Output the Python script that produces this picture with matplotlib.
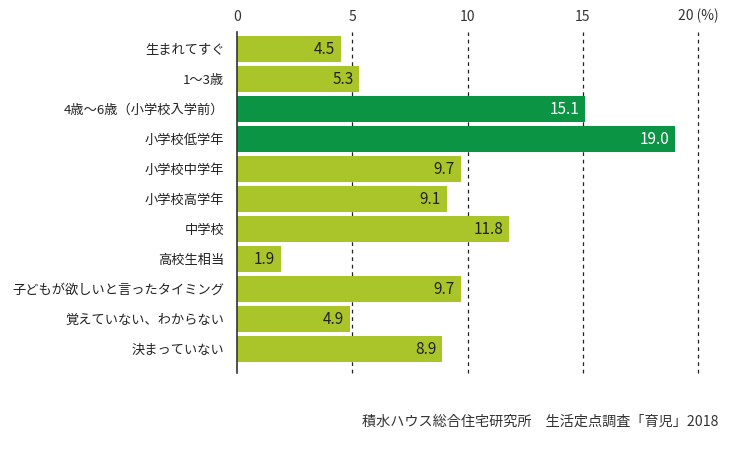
import matplotlib
matplotlib.use("Agg")
import matplotlib.pyplot as plt

plt.rcParams['font.family'] = ['Noto Sans CJK JP', 'DejaVu Sans']

categories = ["生まれてすぐ", "1〜3歳", "4歳〜6歳（小学校入学前）", "小学校低学年",
              "小学校中学年", "小学校高学年", "中学校", "高校生相当",
              "子どもが欲しいと言ったタイミング", "覚えていない、わからない", "決まっていない"]
values = [4.5, 5.3, 15.1, 19.0, 9.7, 9.1, 11.8, 1.9, 9.7, 4.9, 8.9]
highlight = [False, False, True, True, False, False, False, False, False, False, False]
ticks = [0, 5, 10, 15, 20]
tick_labels = ["0", "5", "10", "15", "20 (%)"]
source = "積水ハウス総合住宅研究所　生活定点調査「育児」2018"

light = "#a9c52a"
dark = "#0a9444"

fig = plt.figure(figsize=(7.4, 4.5), dpi=100)
W, H = 740, 450
ax = fig.add_axes([237 / W, 1 - 373 / H, (698 - 237) / W, (373 - 32) / H])

ypos = list(range(len(categories)))
colors = [dark if h else light for h in highlight]
ax.barh(ypos, values, height=0.88, color=colors, zorder=2)

for y, v, h in zip(ypos, values, highlight):
    ax.text(v - 0.25, y + 0.03, f"{v:.1f}", ha="right", va="center",
            fontsize=11, color="white" if h else "#222222", zorder=3)

ax.set_xlim(0, 20)
ax.set_ylim(10.8, -0.57)
ax.set_yticks(ypos)
ax.set_yticklabels(categories, fontsize=9.5, color="#222222")
ax.set_xticks(ticks)
ax.set_xticklabels(tick_labels, fontsize=10, color="#333333")
ax.xaxis.tick_top()
ax.tick_params(axis="y", length=0, pad=9)
ax.tick_params(axis="x", length=0, pad=6)

for t in ticks[1:]:
    ax.axvline(t, color="#222222", lw=0.9, ls=(0, (3, 3)), zorder=1, clip_on=False)

for s in ["top", "right", "bottom"]:
    ax.spines[s].set_visible(False)
ax.spines["left"].set_color("#333333")
ax.spines["left"].set_linewidth(1.2)
ax.spines["left"].set_zorder(4)

fig.text(718 / W, 1 - 422 / H, source, fontsize=10.2, color="#333333",
         ha="right", va="center")

fig.savefig("out.png", dpi=100)
